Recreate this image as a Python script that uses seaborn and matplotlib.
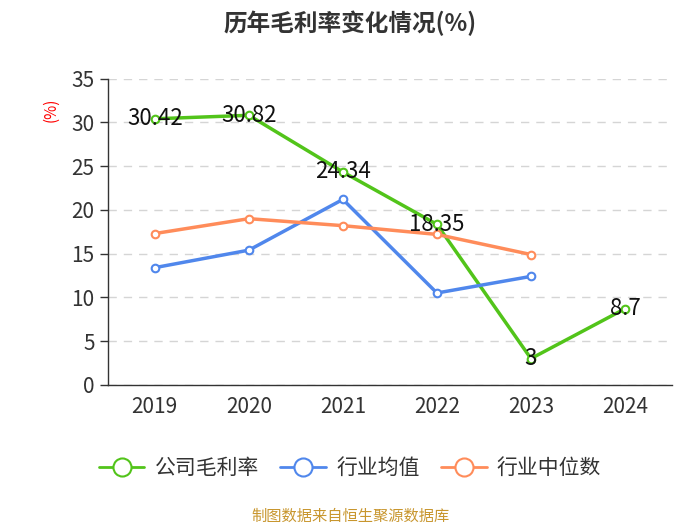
import matplotlib
matplotlib.use("Agg")
import matplotlib.pyplot as plt
import seaborn as sns
import pandas as pd
from matplotlib.lines import Line2D

years = ["2019", "2020", "2021", "2022", "2023", "2024"]
company = [30.42, 30.82, 24.34, 18.35, 3, 8.7]
company_labels = ["30.42", "30.82", "24.34", "18.35", "3", "8.7"]
ind_mean_years = ["2019", "2020", "2021", "2022", "2023"]
ind_mean = [13.4, 15.4, 21.2, 10.5, 12.4]
ind_median = [17.3, 19.0, 18.2, 17.2, 14.9]
series_names = ["公司毛利率", "行业均值", "行业中位数"]
colors = ["#52c41a", "#5087ec", "#ff8c5a"]
yticks = [0, 5, 10, 15, 20, 25, 30, 35]

sns.set_theme(style="white")
plt.rcParams['font.family'] = ['Noto Sans CJK SC', 'DejaVu Sans']

df = pd.concat([
    pd.DataFrame({"year": years, "value": company, "series": series_names[0]}),
    pd.DataFrame({"year": ind_mean_years, "value": ind_mean, "series": series_names[1]}),
    pd.DataFrame({"year": ind_mean_years, "value": ind_median, "series": series_names[2]}),
])
df["x"] = df["year"].map({y: i for i, y in enumerate(years)})

fig = plt.figure(figsize=(7, 5.25), dpi=100)
ax = fig.add_axes([0.154, 0.267, 0.806, 0.583])

sns.lineplot(data=df, x="x", y="value", hue="series", hue_order=series_names,
             palette=colors, ax=ax, linewidth=2.5, legend=False, zorder=3)
for name, c in zip(series_names, colors):
    sub = df[df["series"] == name]
    ax.scatter(sub["x"], sub["value"], s=30, facecolor="white", edgecolor=c,
               linewidth=1.5, zorder=4)

for i, (v, lab) in enumerate(zip(company, company_labels)):
    ax.text(i, v, lab, ha="center", va="center", fontsize=16, color="#111111", zorder=5)

ax.set_xlim(-0.5, 5.5)
ax.set_ylim(0, 35)
ax.set_yticks(yticks)
ax.set_xticks(range(len(years)))
ax.set_xticklabels(years)
ax.set_xticks([i - 0.5 for i in range(len(years) + 1)], minor=True)
ax.tick_params(axis="x", which="major", length=0, labelsize=15, colors="#333333", pad=8)
ax.tick_params(axis="x", which="minor", length=6, color="#333333", width=1)
ax.tick_params(axis="y", length=6, labelsize=15, colors="#333333", left=True, width=1)
ax.set_xlabel("")
ax.set_ylabel("")
ax.yaxis.grid(True, linestyle=(0, (6, 5)), color="#d5d5d5", linewidth=1)
for s in ["top", "right"]:
    ax.spines[s].set_visible(False)
for s in ["left", "bottom"]:
    ax.spines[s].set_color("#333333")
    ax.spines[s].set_linewidth(1)

fig.text(0.073, 0.79, "(%)", color="red", rotation=90, fontsize=11, ha="center", va="center")
fig.text(0.5, 0.955, "历年毛利率变化情况(%)", fontsize=17, fontweight="bold",
         color="#333333", ha="center", va="center")

handles = [Line2D([0], [0], color=c, linewidth=2, marker="o", markersize=13,
                  markerfacecolor="white", markeredgecolor=c, markeredgewidth=1.5)
           for c in colors]
fig.legend(handles, series_names, loc="center", bbox_to_anchor=(0.5, 0.108), ncol=3,
           frameon=False, fontsize=15, handlelength=2.2, columnspacing=1.0,
           handletextpad=0.5, labelcolor="#333333")
fig.text(0.5, 0.017, "制图数据来自恒生聚源数据库", color="#c8962e", fontsize=11,
         ha="center", va="center")

fig.savefig("out.png", dpi=100)
